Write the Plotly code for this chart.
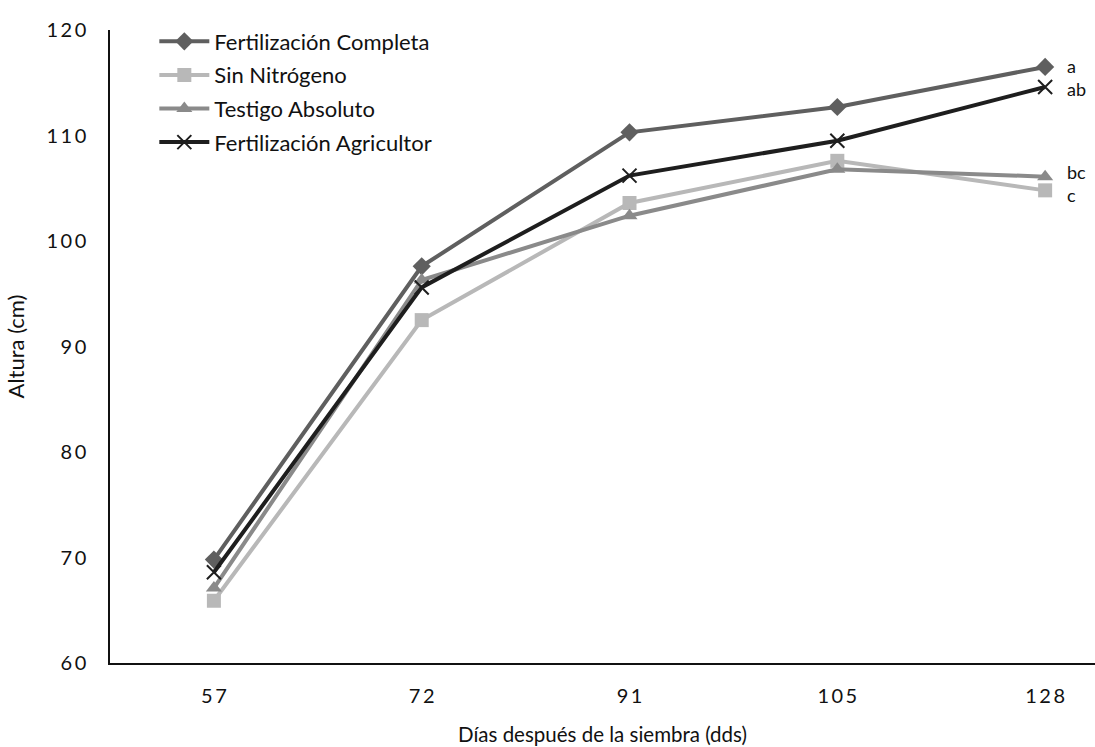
import plotly.graph_objects as go

dias = ["57", "72", "91", "105", "128"]
completa = [69.8, 97.6, 110.3, 112.7, 116.5]
sin_n = [65.9, 92.5, 103.6, 107.6, 104.8]
testigo = [67.1, 96.3, 102.4, 106.8, 106.1]
agricultor = [68.6, 95.6, 106.2, 109.5, 114.6]
letras = ["a", "c", "bc", "ab"]
y_ticks = [60, 70, 80, 90, 100, 110, 120]

FONT = "Lato"
SP = "\u2009"

series = [
    ("Fertilización Completa", completa, "#5f5f5f", dict(symbol="diamond", size=14)),
    ("Sin Nitrógeno", sin_n, "#b8b8b8", dict(symbol="square", size=14)),
    ("Testigo Absoluto", testigo, "#8a8a8a", dict(symbol="triangle-up", size=14)),
    ("Fertilización Agricultor", agricultor, "#1e1e1e",
     dict(symbol="x-thin", size=14, line=dict(width=2, color="#1e1e1e"))),
]

fig = go.Figure()
for i, (name, vals, col, mk) in enumerate(series):
    m = dict(color=col, **mk)
    fig.add_trace(go.Scatter(x=dias, y=vals, name=name, mode="lines+markers",
                             legendgroup=f"g{i}",
                             line=dict(color=col, width=4), marker=m))

# significance letters
yoff = {"a": 1, "ab": -2, "bc": 5, "c": -5}
for (name, vals, col, mk), let in zip(series, letras):
    fig.add_annotation(x=len(dias) - 1, y=vals[-1], xref="x", yref="y", text=let,
                       showarrow=False, xanchor="left", xshift=20, yshift=yoff[let],
                       font=dict(family=FONT, size=18, color="#111111"))

fig.update_layout(
    width=1095, height=747,
    margin=dict(l=110, r=0, t=30, b=84),
    paper_bgcolor="white", plot_bgcolor="white",
    font=dict(family=FONT, size=19, color="#111111"),
    showlegend=True,
    legend=dict(x=0.045, y=1.015, xanchor="left", yanchor="top",
                font=dict(family=FONT, size=22, color="#111111"),
                itemwidth=50, tracegroupgap=2, bgcolor="rgba(0,0,0,0)"),
    xaxis=dict(type="category", range=[-0.5, 4.24], showline=True, linecolor="#111111",
               linewidth=1.5, ticks="", showgrid=False, ticklabelstandoff=14,
               tickmode="array", tickvals=dias, ticktext=[SP.join(d) for d in dias],
               title=dict(text="Días después de la siembra (dds)", standoff=22,
                          font=dict(family=FONT, size=20.5)),
               tickfont=dict(family=FONT, size=20)),
    yaxis=dict(range=[60, 120], showline=True, linecolor="#111111",
               linewidth=1.5, ticks="", showgrid=False, ticklabelstandoff=18,
               tickmode="array", tickvals=y_ticks,
               ticktext=[SP.join(str(v)) for v in y_ticks],
               title=dict(text="Altura (cm)", standoff=16, font=dict(family=FONT, size=22)),
               tickfont=dict(family=FONT, size=20)),
)

fig.write_html("out.html")
